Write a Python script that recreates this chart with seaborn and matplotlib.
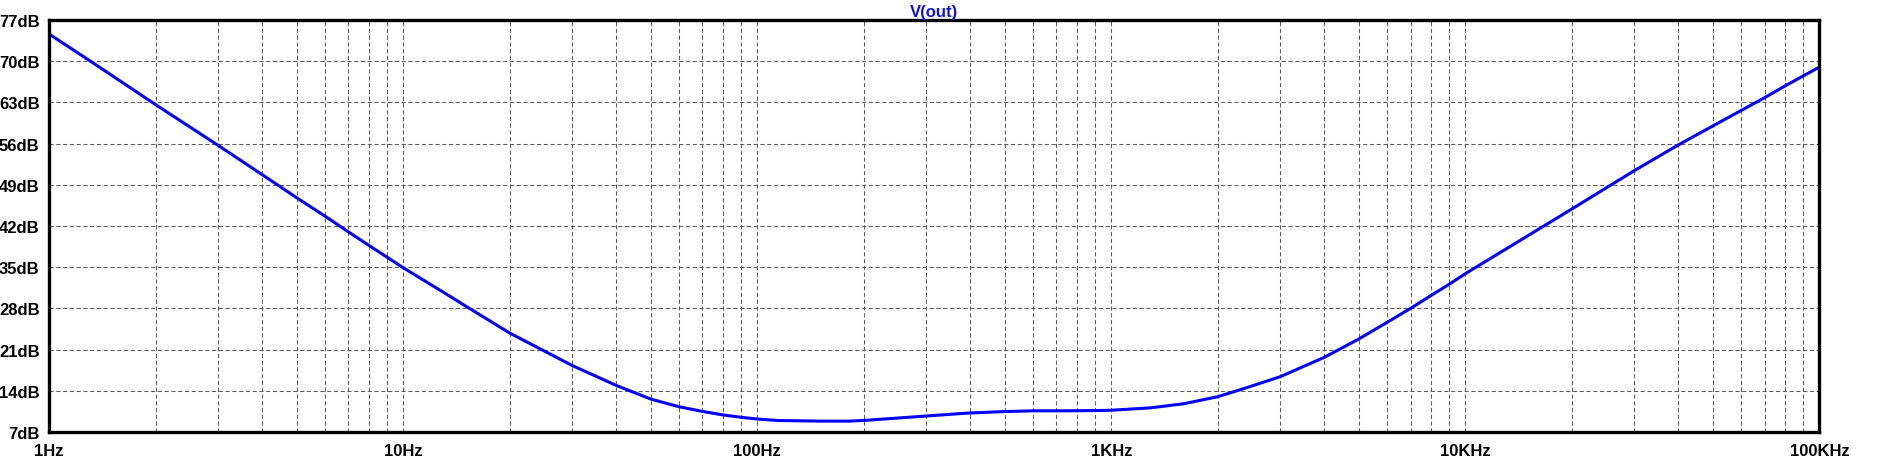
import numpy as np
import pandas as pd
import matplotlib
matplotlib.use("Agg")
import matplotlib.pyplot as plt
import matplotlib.ticker as mticker
import seaborn as sns

# Valores (frecuencia en Hz, magnitud en dB)
freq_hz = [1, 1.3, 2, 3, 4, 5, 6, 7, 8, 9, 10, 13.1, 15, 20, 30, 40, 50, 60, 70, 80, 90,
           100, 115, 150, 183, 204, 253, 314, 390, 485, 603, 748, 929, 1000, 1290, 1600,
           2000, 2460, 3000, 4000, 5000, 6000, 7000, 8000, 9000, 10000, 20000, 30000,
           40000, 50000, 60000, 70000, 80000, 90000, 100000]
vout_db = [74.6, 70.1, 62.6, 55.7, 50.7, 46.8, 43.7, 41.0, 38.7, 36.7, 34.9, 30.6, 28.4,
           23.8, 18.3, 14.9, 12.6, 11.3, 10.5, 9.9, 9.5, 9.2, 8.95, 8.85, 8.85, 9.0, 9.4,
           9.8, 10.2, 10.45, 10.6, 10.6, 10.65, 10.7, 11.1, 11.8, 13.0, 14.7, 16.4, 19.7,
           22.8, 25.6, 28.0, 30.2, 32.1, 33.9, 44.9, 51.4, 55.8, 59.0, 61.6, 63.8, 65.8,
           67.5, 69.0]

x_ticks = [1, 10, 100, 1000, 10000, 100000]
x_labels = ["1Hz", "10Hz", "100Hz", "1KHz", "10KHz", "100KHz"]
y_ticks = [7, 14, 21, 28, 35, 42, 49, 56, 63, 70, 77]
y_labels = [f"{v}dB" for v in y_ticks]

df = pd.DataFrame({"freq": freq_hz, "db": vout_db})

sns.set_style("white")
plt.rcParams["font.family"] = ["Liberation Sans", "DejaVu Sans"]
plt.rcParams["font.weight"] = "bold"

fig = plt.figure(figsize=(18.94, 4.64), dpi=100)
ax = fig.add_axes([0.026, 0.0668, 0.9346, 0.8879])

sns.lineplot(data=df, x="freq", y="db", ax=ax, color="#0000ff", linewidth=2.2)

ax.set_xscale("log")
ax.set_xlim(1, 100000)
ax.set_ylim(7, 77)

ax.xaxis.set_major_locator(mticker.FixedLocator(x_ticks))
ax.xaxis.set_major_formatter(mticker.FixedFormatter(x_labels))
ax.xaxis.set_minor_locator(mticker.LogLocator(base=10, subs=np.arange(2, 10), numticks=20))
ax.xaxis.set_minor_formatter(mticker.NullFormatter())
ax.set_yticks(y_ticks)
ax.set_yticklabels(y_labels)

# Rejilla discontinua tipo LTspice
ax.grid(True, which="both", color="#5e5e5e", linewidth=0.75, linestyle=(0, (4, 2.5)))
ax.set_axisbelow(True)

for s in ax.spines.values():
    s.set_visible(True)
    s.set_color("black")
    s.set_linewidth(2.4)

ax.tick_params(axis="both", which="major", direction="out", length=7, width=2.2,
               color="black", labelsize=12, labelcolor="black", pad=1)
ax.tick_params(axis="x", which="minor", direction="out", length=4, width=1.6, color="black")
ax.tick_params(axis="y", which="minor", length=0)
ax.tick_params(axis="y", which="major", pad=0)

for lab in ax.get_xticklabels() + ax.get_yticklabels():
    lab.set_fontweight("bold")

ax.set_xlabel("")
ax.set_ylabel("")
ax.set_title("V(out)", color="#1010e0", fontsize=12, fontweight="bold", pad=3)

fig.savefig("out.png", dpi=100)
